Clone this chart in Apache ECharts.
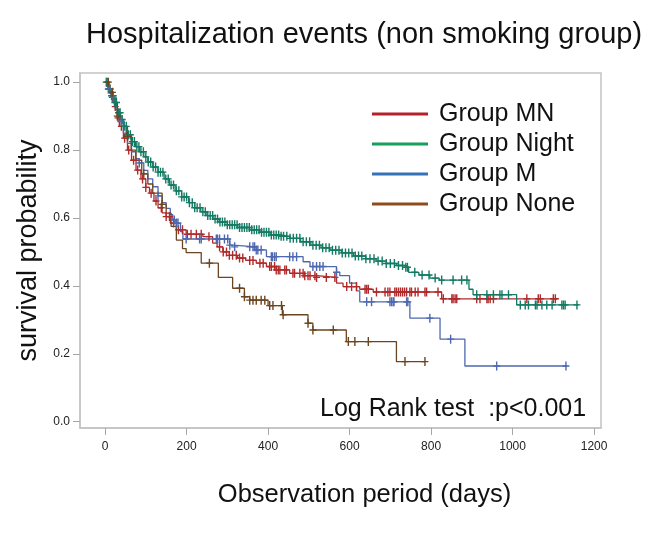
<!DOCTYPE html>
<html>
<head>
<meta charset="utf-8">
<script src="https://cdn.jsdelivr.net/npm/echarts@6/dist/echarts.min.js"></script>
<style>html,body{margin:0;padding:0;background:#fff;}#c{width:652px;height:541px;}</style>
</head>
<body>
<div id="c"></div>
<script>
// ---- data ----
const groupNames = ['Group MN', 'Group Night', 'Group M', 'Group None'];
const xTicks = [0, 200, 400, 600, 800, 1000, 1200];
const yTicks = [0, 0.2, 0.4, 0.6, 0.8, 1.0];

// Kaplan-Meier steps: [day, survival after that day]
const kmMN = [[0,1.0],[8,0.98],[15,0.955],[23,0.928],[30,0.895],[35,0.87],[45,0.835],[55,0.8],[65,0.77],[76,0.741],[88,0.715],[100,0.69],[109,0.673],[120,0.65],[130,0.63],[140,0.615],[150,0.604],[160,0.585],[175,0.565],[199,0.552],[240,0.545],[264,0.526],[275,0.515],[289,0.5],[305,0.49],[325,0.482],[345,0.475],[371,0.467],[396,0.457],[420,0.447],[453,0.437],[490,0.43],[519,0.425],[568,0.408],[584,0.398],[625,0.39],[658,0.382],[826,0.362],[1110,0.362]];
const kmNight = [[0,1.0],[8,0.98],[15,0.96],[22,0.94],[30,0.91],[38,0.89],[45,0.87],[55,0.845],[65,0.825],[75,0.81],[85,0.795],[95,0.78],[105,0.765],[117,0.75],[130,0.735],[145,0.715],[158,0.697],[172,0.68],[188,0.662],[205,0.645],[220,0.63],[235,0.618],[250,0.607],[265,0.597],[280,0.588],[300,0.58],[325,0.572],[355,0.565],[380,0.558],[405,0.55],[430,0.546],[453,0.54],[480,0.53],[505,0.52],[530,0.512],[552,0.505],[580,0.497],[610,0.488],[640,0.48],[665,0.473],[690,0.466],[715,0.46],[738,0.455],[745,0.44],[770,0.432],[797,0.423],[820,0.417],[893,0.39],[903,0.374],[1010,0.344],[1162,0.344]];
const kmM = [[0,1.0],[8,0.98],[15,0.955],[25,0.92],[35,0.885],[45,0.85],[55,0.82],[65,0.795],[75,0.775],[84,0.762],[95,0.74],[105,0.715],[117,0.692],[130,0.665],[140,0.645],[150,0.628],[160,0.61],[166,0.594],[172,0.585],[185,0.56],[191,0.538],[306,0.52],[314,0.515],[371,0.506],[396,0.486],[486,0.471],[503,0.457],[568,0.44],[576,0.43],[600,0.408],[617,0.385],[625,0.353],[748,0.305],[822,0.243],[883,0.164],[1134,0.164]];
const kmNone = [[0,1.0],[10,0.97],[20,0.94],[30,0.9],[40,0.87],[52,0.84],[64,0.8],[76,0.77],[90,0.73],[105,0.7],[117,0.673],[140,0.64],[150,0.614],[162,0.575],[175,0.535],[190,0.51],[199,0.498],[236,0.467],[278,0.425],[313,0.393],[342,0.368],[355,0.358],[400,0.342],[435,0.315],[498,0.29],[510,0.27],[592,0.236],[715,0.177],[785,0.177]];

// censoring times (days)
const censMN = [5,12,18,25,32,40,48,58,70,80,92,100,113,125,138,150,158,168,180,190,202,211,224,236,255,281,290,298,305,313,322,330,338,355,363,380,388,404,408,416,420,425,429,441,445,461,465,478,486,490,498,503,515,519,543,564,593,605,617,638,642,646,666,687,694,699,711,715,720,725,730,735,740,748,752,761,768,785,789,817,830,851,854,859,863,912,920,937,940,945,953,1035,1063,1068,1100,1105];
const censNight = [3,8,12,16,20,24,28,33,37,42,47,52,57,62,67,72,78,83,88,94,100,106,112,118,124,130,136,142,149,155,162,168,175,181,188,194,200,207,214,220,226,233,240,246,252,258,264,270,276,282,288,294,300,306,312,318,324,330,336,342,348,354,360,366,372,378,384,390,396,402,408,414,420,426,432,438,446,454,462,470,478,486,494,502,510,518,526,534,542,550,558,566,574,582,590,598,606,614,622,630,640,650,660,670,680,690,700,710,720,730,738,742,760,778,795,810,826,854,875,888,912,937,953,969,974,990,1019,1031,1039,1056,1060,1072,1084,1097,1121,1125,1129,1158];
const censM = [10,20,40,84,130,170,175,179,199,232,236,273,276,281,293,301,306,318,355,363,367,371,375,383,408,411,416,420,453,461,470,510,519,527,535,568,642,654,699,703,707,709,740,743,797,848,961,1131];
const censNone = [8,18,30,55,95,140,256,330,342,355,363,371,383,392,404,412,433,437,498,510,560,597,613,646,736,785];

// ---- styles ----
const lineColors = ['#b02a2c', '#147a63', '#4e68b0', '#6b4520'];
const legendColors = ['#b5202a', '#17a05a', '#3473b5', '#8f4a1f'];
const FONT = "'Liberation Sans', Arial, sans-serif";

function survAt(km, t) {
  let s = km[0][1];
  for (const p of km) { if (p[0] <= t) s = p[1]; else break; }
  return s;
}
const kms = [kmMN, kmNight, kmM, kmNone];
const cens = [censMN, censNight, censM, censNone];
const plus = 'path://M-0.6,-4H0.6V-0.6H3V0.6H0.6V4H-0.6V0.6H-3V-0.6H-0.6Z';

const series = [];
kms.forEach((km, i) => {
  series.push({
    name: groupNames[i], type: 'line', step: 'end', data: km,
    showSymbol: false, symbol: 'none',
    lineStyle: { color: lineColors[i], width: 1.3 },
    itemStyle: { color: lineColors[i] },
    z: 2
  });
});
cens.forEach((cs, i) => {
  series.push({
    name: groupNames[i] + ' censored', type: 'scatter',
    data: cs.map(t => [t, survAt(kms[i], t)]),
    symbol: plus, symbolSize: [7, 9],
    itemStyle: { color: lineColors[i], opacity: 1 },
    z: 3, silent: true
  });
});

const chart = echarts.init(document.getElementById('c'), null, { renderer: 'canvas' });
chart.setOption({
  animation: false,
  backgroundColor: '#fff',
  title: {
    text: 'Hospitalization events (non smoking group)',
    left: 81, top: 15,
    textStyle: { fontFamily: FONT, fontSize: 29, fontWeight: 'normal', color: '#111' }
  },
  grid: { left: 80, right: 51, top: 73, bottom: 113, show: true, borderColor: '#c4c4c4', borderWidth: 1.5, containLabel: false },
  legend: {
    data: groupNames.map((n, i) => ({ name: n, itemStyle: { color: legendColors[i] } })),
    orient: 'vertical', left: 367, top: 96,
    icon: 'rect', itemWidth: 56, itemHeight: 3, itemGap: 4,
    textStyle: { fontFamily: FONT, fontSize: 25, color: '#111', lineHeight: 26, padding: [0, 0, 0, 6] },
    selectedMode: false
  },
  xAxis: {
    type: 'value', min: -61.5, max: 1217,
    name: 'Observation period (days)', nameLocation: 'middle', nameGap: 54,
    nameTextStyle: { fontFamily: FONT, fontSize: 25.5, color: '#111', padding: [0, 0, 0, 48] },
    axisLine: { show: true, onZero: false, lineStyle: { color: '#c4c4c4', width: 1.5 } },
    axisTick: { show: true, length: 7, lineStyle: { color: '#a8a8a8' }, customValues: xTicks },
    axisLabel: { customValues: xTicks, margin: 13, fontFamily: FONT, fontSize: 12, color: '#222', formatter: v => String(v) },
    splitLine: { show: false }
  },
  yAxis: {
    type: 'value', min: -0.0186, max: 1.027,
    name: 'survival probability', nameLocation: 'middle', nameGap: 36,
    nameTextStyle: { fontFamily: FONT, fontSize: 27, color: '#111' },
    axisLine: { show: true, onZero: false, lineStyle: { color: '#c4c4c4', width: 1.5 } },
    axisTick: { show: true, length: 7, lineStyle: { color: '#a8a8a8' }, customValues: yTicks },
    axisLabel: { customValues: yTicks, margin: 10, fontFamily: FONT, fontSize: 12, color: '#222', formatter: v => v.toFixed(1) },
    splitLine: { show: false }
  },
  graphic: [{
    type: 'text', left: 320, top: 397, silent: true,
    style: { text: 'Log Rank test  :p<0.001', font: '25px ' + FONT, fill: '#111' }
  }],
  series: series
});
</script>
</body>
</html>
